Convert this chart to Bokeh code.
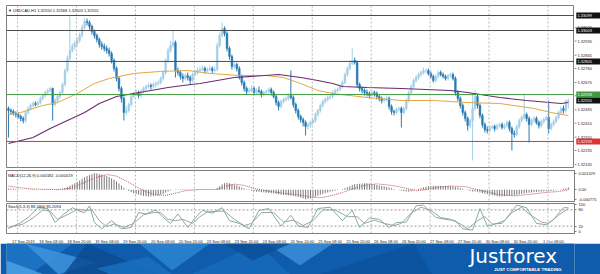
from bokeh.plotting import figure
from bokeh.layouts import column, row
from bokeh.models import Range1d, FixedTicker, Span, Label, PrintfTickFormatter, ColumnDataSource
from bokeh.core.properties import value
from bokeh.embed import file_html
from bokeh.resources import INLINE

FONT = "Liberation Sans"

# ---------------- data (USDCAD H1, 17 Sep 20:00 .. 1 Oct 08:00) ----------------
first_open = 1.32504
closes = [
    1.32491, 1.32485, 1.32472, 1.32465, 1.32453, 1.32440, 1.32427, 1.32478, 1.32504, 1.32523,
    1.32536, 1.32529, 1.32542, 1.32568, 1.32587, 1.32606, 1.32619, 1.32632, 1.32529, 1.32555,
    1.32581, 1.32606, 1.32657, 1.32747, 1.32824, 1.32875, 1.32901, 1.32920, 1.32939, 1.32971,
    1.33022, 1.33061, 1.33054, 1.33029, 1.32997, 1.32971, 1.32945, 1.32913, 1.32901, 1.32888,
    1.32875, 1.32856, 1.32811, 1.32760, 1.32696, 1.32632, 1.32568, 1.32478, 1.32491, 1.32529,
    1.32581, 1.32600, 1.32606, 1.32587, 1.32613, 1.32632, 1.32645, 1.32651, 1.32645, 1.32657,
    1.32664, 1.32670, 1.32696, 1.32734, 1.32811, 1.32875, 1.32907, 1.32926, 1.32747, 1.32734,
    1.32709, 1.32696, 1.32715, 1.32702, 1.32683, 1.32721, 1.32734, 1.32747, 1.32753, 1.32760,
    1.32747, 1.32753, 1.32760, 1.32747, 1.32753, 1.32907, 1.32971, 1.33016, 1.32984, 1.32888,
    1.32837, 1.32773, 1.32785, 1.32760, 1.32709, 1.32670, 1.32632, 1.32613, 1.32619, 1.32632,
    1.32606, 1.32619, 1.32613, 1.32593, 1.32606, 1.32613, 1.32625, 1.32606, 1.32581, 1.32542,
    1.32517, 1.32549, 1.32561, 1.32568, 1.32587, 1.32574, 1.32529, 1.32491, 1.32453, 1.32433,
    1.32414, 1.32389, 1.32401, 1.32414, 1.32427, 1.32465, 1.32491, 1.32523, 1.32549, 1.32561,
    1.32574, 1.32581, 1.32606, 1.32619, 1.32625, 1.32645, 1.32670, 1.32721, 1.32760, 1.32792,
    1.32811, 1.32798, 1.32657, 1.32632, 1.32619, 1.32606, 1.32600, 1.32587, 1.32606, 1.32600,
    1.32581, 1.32568, 1.32555, 1.32561, 1.32568, 1.32517, 1.32485, 1.32478, 1.32497, 1.32504,
    1.32478, 1.32504, 1.32555, 1.32606, 1.32645, 1.32683, 1.32702, 1.32721, 1.32734, 1.32747,
    1.32747, 1.32728, 1.32709, 1.32683, 1.32709, 1.32734, 1.32721, 1.32709, 1.32696, 1.32715,
    1.32721, 1.32696, 1.32606, 1.32568, 1.32523, 1.32478, 1.32440, 1.32395, 1.32427, 1.32504,
    1.32581, 1.32523, 1.32459, 1.32401, 1.32369, 1.32363, 1.32382, 1.32389, 1.32376, 1.32395,
    1.32401, 1.32382, 1.32395, 1.32414, 1.32376, 1.32344, 1.32337, 1.32389, 1.32427, 1.32446,
    1.32465, 1.32440, 1.32401, 1.32427, 1.32440, 1.32414, 1.32395, 1.32421, 1.32433, 1.32446,
    1.32376, 1.32401, 1.32421, 1.32446, 1.32478, 1.32504, 1.32491, 1.32550, 1.32555]
highs = [
    1.32517, 1.32504, 1.32497, 1.32485, 1.32478, 1.32465, 1.32453, 1.32491, 1.32517, 1.32536,
    1.32549, 1.32549, 1.32555, 1.32581, 1.32600, 1.32619, 1.32632, 1.32645, 1.32638, 1.32568,
    1.32593, 1.32619, 1.32670, 1.32760, 1.32843, 1.33093, 1.32920, 1.32939, 1.32958, 1.32990,
    1.33041, 1.33086, 1.33080, 1.33067, 1.33041, 1.33009, 1.32984, 1.32958, 1.32933, 1.32920,
    1.32907, 1.32894, 1.32869, 1.32824, 1.32773, 1.32709, 1.32645, 1.32581, 1.32517, 1.32542,
    1.32593, 1.32613, 1.32625, 1.32619, 1.32625, 1.32645, 1.32657, 1.32670, 1.32664, 1.32670,
    1.32677, 1.32683, 1.32709, 1.32747, 1.32824, 1.32894, 1.32939, 1.33003, 1.32939, 1.32766,
    1.32747, 1.32728, 1.32728, 1.32734, 1.32715, 1.32734, 1.32747, 1.32766, 1.32773, 1.32779,
    1.32773, 1.32766, 1.32779, 1.32773, 1.32773, 1.32926, 1.32990, 1.33054, 1.33029, 1.32997,
    1.32901, 1.32849, 1.32798, 1.32798, 1.32773, 1.32721, 1.32683, 1.32645, 1.32638, 1.32651,
    1.32645, 1.32632, 1.32645, 1.32625, 1.32619, 1.32625, 1.32638, 1.32638, 1.32619, 1.32593,
    1.32555, 1.32561, 1.32574, 1.32581, 1.32600, 1.32747, 1.32587, 1.32542, 1.32504, 1.32465,
    1.32446, 1.32427, 1.32414, 1.32427, 1.32440, 1.32478, 1.32504, 1.32536, 1.32561, 1.32574,
    1.32587, 1.32593, 1.32619, 1.32632, 1.32638, 1.32657, 1.32683, 1.32734, 1.32773, 1.32811,
    1.32888, 1.32830, 1.32811, 1.32670, 1.32645, 1.32632, 1.32625, 1.32613, 1.32619, 1.32619,
    1.32613, 1.32593, 1.32581, 1.32574, 1.32587, 1.32581, 1.32529, 1.32497, 1.32510, 1.32517,
    1.32517, 1.32517, 1.32568, 1.32619, 1.32657, 1.32696, 1.32715, 1.32734, 1.32747, 1.32766,
    1.32760, 1.32760, 1.32741, 1.32721, 1.32721, 1.32747, 1.32747, 1.32734, 1.32721, 1.32728,
    1.32734, 1.32734, 1.32709, 1.32619, 1.32581, 1.32536, 1.32491, 1.32453, 1.32440, 1.32600,
    1.32619, 1.32593, 1.32536, 1.32472, 1.32414, 1.32389, 1.32395, 1.32401, 1.32401, 1.32408,
    1.32414, 1.32414, 1.32408, 1.32427, 1.32427, 1.32389, 1.32363, 1.32401, 1.32440, 1.32459,
    1.32600, 1.32478, 1.32453, 1.32440, 1.32453, 1.32453, 1.32427, 1.32433, 1.32446, 1.32459,
    1.32555, 1.32414, 1.32433, 1.32459, 1.32491, 1.32517, 1.32523, 1.32561, 1.32568]
lows = [
    1.32318, 1.32465, 1.32459, 1.32446, 1.32440, 1.32421, 1.32408, 1.32414, 1.32465, 1.32491,
    1.32510, 1.32517, 1.32517, 1.32529, 1.32555, 1.32574, 1.32593, 1.32606, 1.32427, 1.32517,
    1.32542, 1.32568, 1.32593, 1.32645, 1.32734, 1.32811, 1.32862, 1.32881, 1.32901, 1.32926,
    1.32958, 1.33009, 1.33035, 1.33009, 1.32977, 1.32952, 1.32926, 1.32894, 1.32881, 1.32869,
    1.32856, 1.32837, 1.32792, 1.32741, 1.32677, 1.32613, 1.32542, 1.32427, 1.32459, 1.32478,
    1.32517, 1.32568, 1.32581, 1.32568, 1.32574, 1.32600, 1.32619, 1.32632, 1.32625, 1.32632,
    1.32638, 1.32651, 1.32657, 1.32683, 1.32721, 1.32798, 1.32862, 1.32894, 1.32702, 1.32715,
    1.32689, 1.32670, 1.32683, 1.32683, 1.32657, 1.32670, 1.32709, 1.32721, 1.32734, 1.32741,
    1.32728, 1.32734, 1.32741, 1.32728, 1.32734, 1.32741, 1.32894, 1.32958, 1.32965, 1.32869,
    1.32817, 1.32753, 1.32760, 1.32741, 1.32689, 1.32651, 1.32613, 1.32593, 1.32600, 1.32606,
    1.32587, 1.32593, 1.32600, 1.32574, 1.32581, 1.32593, 1.32600, 1.32587, 1.32568, 1.32523,
    1.32491, 1.32504, 1.32536, 1.32549, 1.32555, 1.32561, 1.32510, 1.32472, 1.32433, 1.32414,
    1.32389, 1.32331, 1.32369, 1.32382, 1.32401, 1.32414, 1.32453, 1.32478, 1.32510, 1.32536,
    1.32549, 1.32561, 1.32568, 1.32593, 1.32606, 1.32613, 1.32632, 1.32657, 1.32709, 1.32747,
    1.32779, 1.32785, 1.32638, 1.32613, 1.32600, 1.32587, 1.32581, 1.32568, 1.32574, 1.32581,
    1.32561, 1.32549, 1.32536, 1.32542, 1.32549, 1.32497, 1.32465, 1.32459, 1.32465, 1.32485,
    1.32382, 1.32465, 1.32491, 1.32542, 1.32593, 1.32632, 1.32670, 1.32689, 1.32709, 1.32721,
    1.32728, 1.32715, 1.32696, 1.32670, 1.32670, 1.32696, 1.32709, 1.32696, 1.32683, 1.32683,
    1.32702, 1.32683, 1.32587, 1.32549, 1.32504, 1.32459, 1.32421, 1.32363, 1.32376, 1.32171,
    1.32491, 1.32504, 1.32440, 1.32382, 1.32350, 1.32344, 1.32350, 1.32369, 1.32357, 1.32363,
    1.32382, 1.32369, 1.32369, 1.32382, 1.32357, 1.32235, 1.32318, 1.32325, 1.32376, 1.32414,
    1.32433, 1.32421, 1.32286, 1.32389, 1.32414, 1.32401, 1.32376, 1.32382, 1.32408, 1.32427,
    1.32344, 1.32363, 1.32389, 1.32408, 1.32433, 1.32465, 1.32472, 1.32478, 1.32503]

ma_fast_bars = [0, 5, 14, 20, 28, 35, 41, 51, 62, 73, 82, 94, 105, 112, 119, 126, 132, 139, 146, 160, 173, 187, 200, 214, 221, 228]
ma_fast_vals = [1.32465, 1.32478, 1.32523, 1.32542, 1.32600, 1.32664, 1.32696, 1.32728, 1.32741, 1.32747,
                1.32728, 1.32715, 1.32715, 1.32702, 1.32664, 1.32619, 1.32600, 1.32587, 1.32574, 1.32555,
                1.32555, 1.32542, 1.32536, 1.32504, 1.32478, 1.32459]
ma_slow_bars = [0, 10, 17, 24, 31, 37, 44, 51, 58, 65, 71, 78, 92, 110, 119, 126, 132, 136, 146, 160, 180, 187, 200, 211, 225, 228]
ma_slow_vals = [1.32280, 1.32318, 1.32376, 1.32427, 1.32478, 1.32536, 1.32581, 1.32600, 1.32619, 1.32638,
                1.32651, 1.32664, 1.32702, 1.32721, 1.32702, 1.32683, 1.32664, 1.32645, 1.32638, 1.32632,
                1.32619, 1.32606, 1.32574, 1.32555, 1.32536, 1.32542]

resistance_levels = [1.33099, 1.33003, 1.32805]
green_level = 1.32593
red_level = 1.32293
last_price = 1.32555
price_ticks = [1.32145, 1.32235, 1.32320, 1.32410, 1.32495, 1.32585, 1.32670, 1.32760, 1.32845, 1.32935, 1.33020]

# MACD main (in units of 1e-5)
macd_main_e5 = [
    10, 9, 8, 6, 4, 2,
    1, 0, -1, -2, -2, -1, 0, 1, 2, 2, 3, 3, 2, 2, 3, 4,
    8, 14, 22, 32, 42, 52, 62, 74, 88,
    100, 110, 118, 126, 133, 131, 127, 122, 116, 110,
    102, 92, 80, 66, 50, 34, 16, 2,
    -10, -20, -28, -34, -40, -46, -50, -52, -54, -54, -52, -48, -44,
    -40, -34, -24, -14, -6, 0,
    2, 3, 4, 5, 5, 4, 4, 3, 3, 3, 2,
    2, 2, 1, 1, 1, 2,
    14, 28, 42, 52, 56, 52,
    46, 40, 34, 26, 18, 10, 2,
    -4, -8, -12, -16, -18, -20, -22, -24, -26, -28, -30, -34, -38,
    -40, -42, -44, -46, -48, -50, -54, -58, -64, -70, -77, -74, -70, -64,
    -56, -48, -40, -34, -28, -22, -16, -12, -8, -4, 0,
    6, 12, 20, 28, 38,
    44, 46, 48, 50, 52, 52, 50,
    46, 42, 38, 34, 30, 26, 22, 18, 12, 6, 0, -4, -8,
    -12, -14, -16, -12, -6,
    2, 8, 14, 20, 24, 28, 30, 32, 32, 32, 32, 30, 30, 30, 28, 26, 22, 18, 14,
    8, 2, -4, -10, -14, -14, -16, -22, -28,
    -32, -36, -40, -44, -48, -52, -54, -54, -52, -50, -48, -48, -46, -42, -38, -34, -30, -26,
    -24, -22, -20, -18, -16, -16, -14, -12, -12, -10, -8, -4, 0, 4,
    8, 12, 18]
macd_sig_bars = [0, 5, 10, 20, 25, 30, 35, 40, 44, 48, 52, 56, 60, 64, 68, 72, 78, 85, 88, 92,
                 96, 100, 106, 112, 118, 124, 128, 132, 136, 140, 145, 150, 156, 162, 166, 170, 175, 180, 186, 190,
                 195, 200, 206, 212, 218, 224, 228]
macd_sig_e5 = [30, 15, 5, 1, 10, 50, 95, 122, 110, 70, 25, -15, -42, -45, -28, -8, 2, 2, 25, 45,
               35, 10, -12, -28, -42, -62, -62, -45, -22, 5, 35, 47, 35, 12, -8, 0, 20, 30, 25, 5,
               -18, -40, -50, -38, -24, -14, -1.9]
macd_ticks = [0.001329, 0.0, -0.000775]
macd_tick_labels = ["0.001329", "0.00", "-0.000775"]

stoch_main_bars = [0, 5, 8, 12, 16, 19, 22, 26, 29, 31, 33, 35, 38, 42, 46, 50, 53, 56, 60, 63,
                   66, 69, 73, 77, 79, 83, 87, 90, 94, 98, 102, 106, 111, 115, 118, 122, 126, 131, 136, 140,
                   143, 147, 151, 155, 158, 162, 166, 169, 174, 178, 182, 185, 189, 192, 195, 198, 202, 207, 211, 215,
                   219, 222, 226, 228]
stoch_main_vals = [11, 33, 52, 88, 85, 33, 60, 88, 75, 70, 95, 33, 10, 40, 10, 15, 70, 65, 80, 52,
                   30, 65, 15, 60, 78, 68, 88, 40, 30, 10, 78, 85, 20, 60, 20, 15, 85, 90, 40, 78,
                   15, 50, 45, 15, 33, 35, 95, 98, 52, 45, 40, 10, 5, 85, 20, 27, 40, 98, 88, 30,
                   25, 45, 88, 88.18]
stoch_sig_bars = [0, 6, 10, 14, 17, 20, 24, 28, 32, 34, 37, 40, 43, 47, 51, 55, 59, 62, 65, 68,
                  71, 75, 78, 81, 85, 88, 92, 96, 99, 103, 108, 112, 116, 120, 124, 128, 133, 138, 142, 145,
                  149, 153, 157, 160, 164, 168, 172, 176, 180, 184, 187, 191, 194, 197, 201, 205, 209, 212, 217, 220,
                  224, 228]
stoch_sig_vals = [15, 28, 50, 80, 75, 45, 62, 82, 78, 80, 40, 18, 28, 15, 30, 62, 70, 70, 45, 40,
                  45, 30, 55, 72, 75, 75, 45, 22, 30, 70, 70, 35, 42, 22, 40, 80, 80, 55, 55, 30,
                  42, 30, 22, 30, 68, 90, 78, 52, 45, 28, 10, 40, 55, 28, 30, 70, 90, 65, 35, 30,
                  60, 85.21]
stoch_ticks = [100, 80, 20, 0]
stoch_levels = [80, 20]

time_label_bars = [0, 12, 24, 36, 48, 60, 72, 84, 96, 108, 120, 132, 144, 156, 168, 180, 192, 204, 216, 228]
time_labels = ["17 Sep 2019", "18 Sep 08:00", "18 Sep 20:00", "19 Sep 08:00", "19 Sep 20:00",
               "20 Sep 08:00", "20 Sep 20:00", "23 Sep 08:00", "23 Sep 20:00", "24 Sep 08:00",
               "24 Sep 20:00", "25 Sep 08:00", "25 Sep 20:00", "26 Sep 08:00", "26 Sep 20:00",
               "27 Sep 08:00", "27 Sep 20:00", "30 Sep 08:00", "30 Sep 20:00", "1 Oct 08:00"]
grid_bars = [3.7, 27.7, 51.7, 75.7, 99.7, 123.7, 147.7, 171.7, 195.7, 219.7]

title_price = "\u25bc USDCAD,H1  1.32550 1.32568 1.32503 1.32555"
title_macd = "MACD(12,26,9) 0.000182 -0.000019"
title_stoch = "Stoch(5,3,3) 88.1800 85.2094"

# ---------------- styling ----------------
BULL = "#a3cfe6"
BEAR = "#2a7ab3"
FRAME = "#7f7f7f"
GRIDC = "#b5b5b5"
LBL = "4px"
LEFT, RIGHT = 6, 26
X0, X1 = -0.8, 230.5

xr = Range1d(X0, X1)
price_range = Range1d(1.321198, 1.33163)


def add_grid(f):
    for b in grid_bars:
        f.add_layout(Span(location=b, dimension="height", line_color=GRIDC,
                          line_dash="2 2", line_width=1))


def style_axis(ax):
    ax.major_label_text_font_size = LBL
    ax.major_label_text_font = FONT
    ax.major_label_text_color = "#222222"
    ax.major_tick_out = 2
    ax.major_tick_in = 0
    ax.minor_tick_line_color = None
    ax.minor_tick_out = 0
    ax.minor_tick_in = 0
    ax.major_tick_line_color = FRAME
    ax.axis_line_color = FRAME
    ax.major_label_standoff = 2


def base_fig(height, yr, top, bottom):
    f = figure(width=600, height=height, x_range=xr, y_range=yr,
               output_backend="svg", toolbar_location=None,
               x_axis_location=None, y_axis_location="right",
               min_border_left=LEFT, min_border_right=RIGHT,
               min_border_top=top, min_border_bottom=bottom,
               background_fill_color="white", border_fill_color="white",
               outline_line_color=FRAME)
    f.grid.visible = False
    style_axis(f.yaxis[0])
    add_grid(f)
    return f


def add_title(f, y, text):
    f.add_layout(Label(x=-0.2, y=y, text=text, text_font=FONT, text_font_size=LBL,
                       text_color="#111111", text_baseline="middle", text_align="left"))


# ---------------- price panel (chart + price scale column) ----------------
p = figure(width=600 - RIGHT, height=168, x_range=xr, y_range=price_range,
           output_backend="svg", toolbar_location=None,
           x_axis_location=None, y_axis_location=None,
           min_border_left=LEFT, min_border_right=0, min_border_top=5, min_border_bottom=0,
           background_fill_color="white", border_fill_color="white", outline_line_color=FRAME)
p.grid.visible = False
add_grid(p)

opens = [first_open] + closes[:-1]
bars = list(range(len(closes)))
colors = [BULL if c >= o else BEAR for o, c in zip(opens, closes)]
src = ColumnDataSource(dict(x=bars, o=opens, h=highs, l=lows, c=closes,
                            top=[max(o, c) for o, c in zip(opens, closes)],
                            bot=[min(o, c) for o, c in zip(opens, closes)],
                            col=colors))
for lv in resistance_levels:
    p.add_layout(Span(location=lv, dimension="width", line_color="#4d4d4d", line_width=1))
p.add_layout(Span(location=green_level, dimension="width", line_color="#3f9a3f", line_width=1))
p.add_layout(Span(location=red_level, dimension="width", line_color="#d83232", line_width=1))

p.segment(x0="x", y0="l", x1="x", y1="h", line_color="col", line_width=1, source=src)
p.vbar(x="x", width=0.72, top="top", bottom="bot", fill_color="col", line_color="col",
       line_width=0.5, source=src)
p.line(ma_fast_bars, ma_fast_vals, line_color="#e3a645", line_width=1)
p.line(ma_slow_bars, ma_slow_vals, line_color="#6a2b6e", line_width=1.1)
add_title(p, 1.33133, title_price)

# price scale column: ticks, tick labels and price tags drawn through the shared price scale
pa = figure(width=RIGHT, height=168, x_range=Range1d(0, RIGHT), y_range=price_range,
            output_backend="svg", toolbar_location=None,
            x_axis_location=None, y_axis_location=None,
            min_border_left=0, min_border_right=0, min_border_top=5, min_border_bottom=0,
            background_fill_color="white", border_fill_color="white", outline_line_color=None)
pa.grid.visible = False
pa.segment(x0=[0] * len(price_ticks), y0=price_ticks, x1=[2] * len(price_ticks), y1=price_ticks,
           line_color=FRAME, line_width=1)
pa.text(x=[3] * len(price_ticks), y=price_ticks, text=["%.5f" % t for t in price_ticks],
        text_font=value(FONT), text_font_size=LBL, text_color="#222222",
        text_baseline="middle", text_align="left")
tag_vals = resistance_levels + [green_level, red_level, last_price]
tag_cols = ["#111111"] * len(resistance_levels) + ["#3f9a3f", "#d83232", "#111111"]
pa.rect(x=[13.8] * len(tag_vals), y=tag_vals, width=24, height=6, height_units="screen",
        fill_color=tag_cols, line_color=None)
pa.text(x=[3] * len(tag_vals), y=tag_vals, text=["%.5f" % t for t in tag_vals],
        text_font=value(FONT), text_font_size=LBL, text_color="white",
        text_baseline="middle", text_align="left")

# ---------------- MACD panel ----------------
m = base_fig(34, Range1d(-0.00095, 0.00155), 2, 1)
macd_main = [v * 1e-5 for v in macd_main_e5]
macd_sig = [v * 1e-5 for v in macd_sig_e5]
m.segment(x0=bars, y0=[0.0] * len(bars), x1=bars, y1=macd_main, line_color="#7a7a7a", line_width=1)
m.line(macd_sig_bars, macd_sig, line_color="#b25a5a", line_width=1, line_dash="1 1")
m.yaxis.ticker = FixedTicker(ticks=macd_ticks)
m.yaxis.formatter = PrintfTickFormatter(format="%.6f")
m.yaxis.major_label_overrides = {t: s for t, s in zip(macd_ticks, macd_tick_labels)}
add_title(m, 0.00112, title_macd)

# ---------------- Stochastic panel ----------------
s = base_fig(32, Range1d(-7.4, 103.7), 1, 1)
for lv in stoch_levels:
    s.add_layout(Span(location=lv, dimension="width", line_color="#9a9a9a",
                      line_dash="2 2", line_width=1))
s.line(stoch_sig_bars, stoch_sig_vals, line_color="#a3a3a3", line_width=1)
s.line(stoch_main_bars, stoch_main_vals, line_color="#7faea3", line_width=1)
s.yaxis.ticker = FixedTicker(ticks=stoch_ticks)
add_title(s, 92, title_stoch)

# ---------------- time axis strip ----------------
ppb = (600 - LEFT - RIGHT) / (X1 - X0)
strip = figure(width=600, height=9, x_range=Range1d(X0 - LEFT / ppb, X1 + RIGHT / ppb),
               y_range=Range1d(0, 1), output_backend="svg", toolbar_location=None,
               x_axis_location="below", y_axis_location=None,
               min_border_left=0, min_border_right=0, min_border_top=0, min_border_bottom=8,
               outline_line_color=None, background_fill_color="white", border_fill_color="white")
strip.grid.visible = False
time_ticks = [b + 4 for b in time_label_bars]
xa = strip.xaxis[0]
xa.ticker = FixedTicker(ticks=time_ticks)
xa.major_label_overrides = {t: lab for t, lab in zip(time_ticks, time_labels)}
xa.axis_line_color = None
xa.major_tick_line_color = None
xa.minor_tick_line_color = None
xa.major_tick_out = 0
xa.major_tick_in = 0
xa.minor_tick_out = 0
xa.minor_tick_in = 0
xa.major_label_standoff = 0
xa.major_label_text_font_size = LBL
xa.major_label_text_font = FONT
xa.major_label_text_color = "#222222"

# ---------------- banner ----------------
banner_bg = "#0e5cab"
banner_xs = [[0, 70, 25, 0], [20, 95, 55], [85, 160, 60], [140, 215, 175], [195, 265, 300],
             [275, 345, 310], [330, 430, 450], [0, 40, 0], [110, 175, 150, 95], [230, 300, 260]]
banner_ys = [[31, 31, 0, 0], [31, 12, 0], [31, 0, 0], [31, 31, 4], [0, 31, 0],
             [31, 31, 9], [0, 31, 0], [14, 0, 0], [0, 0, 18, 6], [31, 31, 14]]
banner_cols = ["#1f76c6", "#3e93da", "#0a4b92", "#2b84d0", "#1669b9",
               "#3a8dd5", "#0c529d", "#4aa0e2", "#1a6fc0", "#0b4f98"]
b = figure(width=600, height=31, x_range=Range1d(0, 600), y_range=Range1d(0, 31),
           output_backend="svg", toolbar_location=None, x_axis_location=None, y_axis_location=None,
           min_border=0, outline_line_color=None,
           background_fill_color=banner_bg, border_fill_color=banner_bg)
b.grid.visible = False
b.patches(xs=banner_xs, ys=banner_ys, fill_color=banner_cols, line_color=None, fill_alpha=0.85)
b.text(x=[489], y=[19], text=["Justforex"], text_font=value("DejaVu Sans"), text_font_size="20px",
       text_color="white", text_baseline="middle", text_align="left")
b.text(x=[515], y=[5.5], text=["JUST COMFORTABLE TRADING"], text_font=value(FONT),
       text_font_size="4.4px", text_font_style="bold", text_color="white",
       text_baseline="middle", text_align="left")

layout = column(row(p, pa, spacing=0), m, s, strip, b, spacing=0)
open("out.html", "w").write(file_html(layout, INLINE))
